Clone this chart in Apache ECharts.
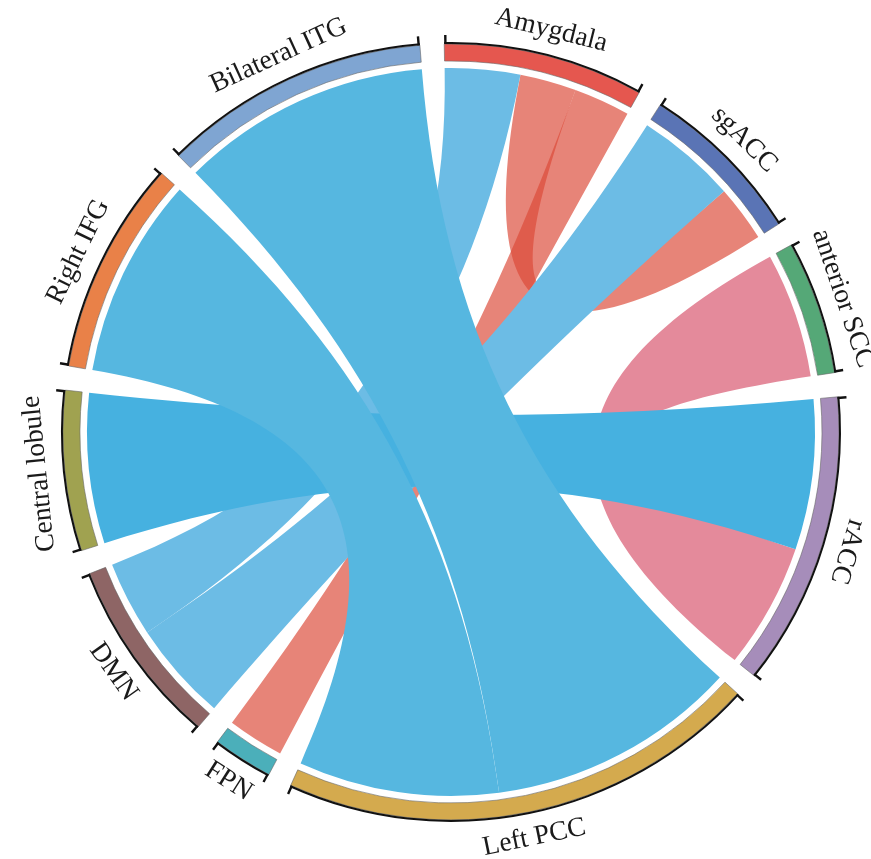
<!DOCTYPE html>
<html><head><meta charset="utf-8">
<script src="https://cdn.jsdelivr.net/npm/echarts@6/dist/echarts.min.js"></script>
<style>html,body{margin:0;padding:0;background:#fff}#c{width:871px;height:859px}</style>
</head><body><div id="c"></div>
<script>
// ---- data ----
const nodeNames = ['Amygdala','sgACC','anterior SCC','rACC','Left PCC','FPN','DMN','Central lobule','Right IFG','Bilateral ITG'];
// links (order decides placement inside each node arc)
const linkSource = ['sgACC','Amygdala','Central lobule','Bilateral ITG','Right IFG','Amygdala','Amygdala','anterior SCC'];
const linkTarget = ['DMN','DMN','rACC','Left PCC','Left PCC','sgACC','FPN','rACC'];
const linkValue  = [16,12,24,40,32,9,9,20];

// ---- styles ----
const nodeColors = ['#E5574F','#5A74B5','#55A877','#A68DBA','#D4AA4E','#4BAFBA','#8E6565','#A0A250','#E98148','#7FA5D2'];
// ribbon layer 0 (bottom: negative / pink) and layer 1 (top: blue); colour is taken from the target node of each layer
const layerOfLink = [1,1,1,1,1,0,0,0];
const linkOpacity = [1,1,1,1,1,0.68,0.68,1];
const layerTargetColor = [
  {'sgACC':'#DC4A38', 'FPN':'#DC4A38', 'rACC':'#E48A9B'},
  {'DMN':'#6CBCE5', 'rACC':'#46B1E0', 'Left PCC':'#56B7E0'}
];

const padDeg = 3.6, startDeg = 91, cx = 451, cy = 432;
const ribbonR = 364, ringR0 = 371, ringR1 = 388;

const nodeTotals = nodeNames.map(n => linkValue.reduce((s,v,i)=> s + ((linkSource[i]===n?v:0) + (linkTarget[i]===n?v:0)), 0));
const totalV = nodeTotals.reduce((a,b)=>a+b,0);
const unit = (360 - nodeNames.length*padDeg)/totalV;
const padV = padDeg/unit;
const T = 'rgba(0,0,0,0)';

function ringData(colorFn, extra) {
  const d = [];
  nodeNames.forEach((n,i)=>{
    d.push(Object.assign({name:n, value:nodeTotals[i], itemStyle:{color:colorFn(i)}}, extra ? extra(i) : {}));
    d.push({name:'pad'+i, value:padV, itemStyle:{color:T, borderWidth:0}, label:{show:false}});
  });
  return d;
}
const tickV = 0.35/unit;
function tickData() {
  const d = [];
  nodeNames.forEach((n,i)=>{
    d.push({value:tickV, itemStyle:{color:'#111'}});
    d.push({value:nodeTotals[i]-2*tickV, itemStyle:{color:T}});
    d.push({value:tickV, itemStyle:{color:'#111'}});
    d.push({value:padV, itemStyle:{color:T}});
  });
  return d;
}
let cum = 0;
const labelRot = nodeTotals.map((v,i)=>{
  const th = (90 - startDeg) + unit*(cum + v/2) + i*padDeg;
  cum += v;
  return (th > 120 && th < 250) ? 180 - th : -th;
});

function pieBase(r0, r1, data, z) {
  return {type:'pie', center:[cx,cy], radius:[r0,r1], startAngle:startDeg, clockwise:true,
    avoidLabelOverlap:false, silent:true, z:z, animation:false, padAngle:0, minAngle:0,
    label:{show:false}, labelLine:{show:false}, emphasis:{disabled:true},
    itemStyle:{borderWidth:0}, data:data};
}

function chordLayer(layer) {
  const cmap = layerTargetColor[layer];
  return {
    type:'chord', center:[cx,cy], radius:[ribbonR, ribbonR], startAngle:startDeg, clockwise:true,
    padAngle:padDeg, minAngle:0, silent:true, animation:false, z: 2 + layer,
    itemStyle:{borderRadius:0},
    label:{show:false}, emphasis:{disabled:true},
    data: nodeNames.map(n=>({name:n, itemStyle:{color: cmap[n] || '#ffffff', borderRadius:0}})),
    links: linkSource.map((s,i)=>({source:s, target:linkTarget[i], value:linkValue[i],
      lineStyle:{color:'target', opacity: layerOfLink[i]===layer ? linkOpacity[i] : 0}}))
  };
}

const chart = echarts.init(document.getElementById('c'), null, {renderer:'canvas'});
chart.setOption({
  animation:false,
  backgroundColor:'#fff',
  series:[
    chordLayer(0),
    chordLayer(1),
    Object.assign(pieBase(ringR0, ringR1, ringData(i=>nodeColors[i]), 4), {itemStyle:{borderWidth:0.6, borderColor:'#666'}}),
    pieBase(ringR1, ringR1+2, ringData(()=> '#111'), 5),
    pieBase(ringR1, ringR1+9, tickData(), 5),
    Object.assign(pieBase(398, 424, ringData(()=>T, i=>({label:{show:true, rotate:labelRot[i]}})), 6), {
      label:{show:true, position:'inside', color:'#1a1a1a', fontFamily:'Liberation Serif', fontSize:27.5, formatter:'{b}'}
    })
  ]
});
</script></body></html>
